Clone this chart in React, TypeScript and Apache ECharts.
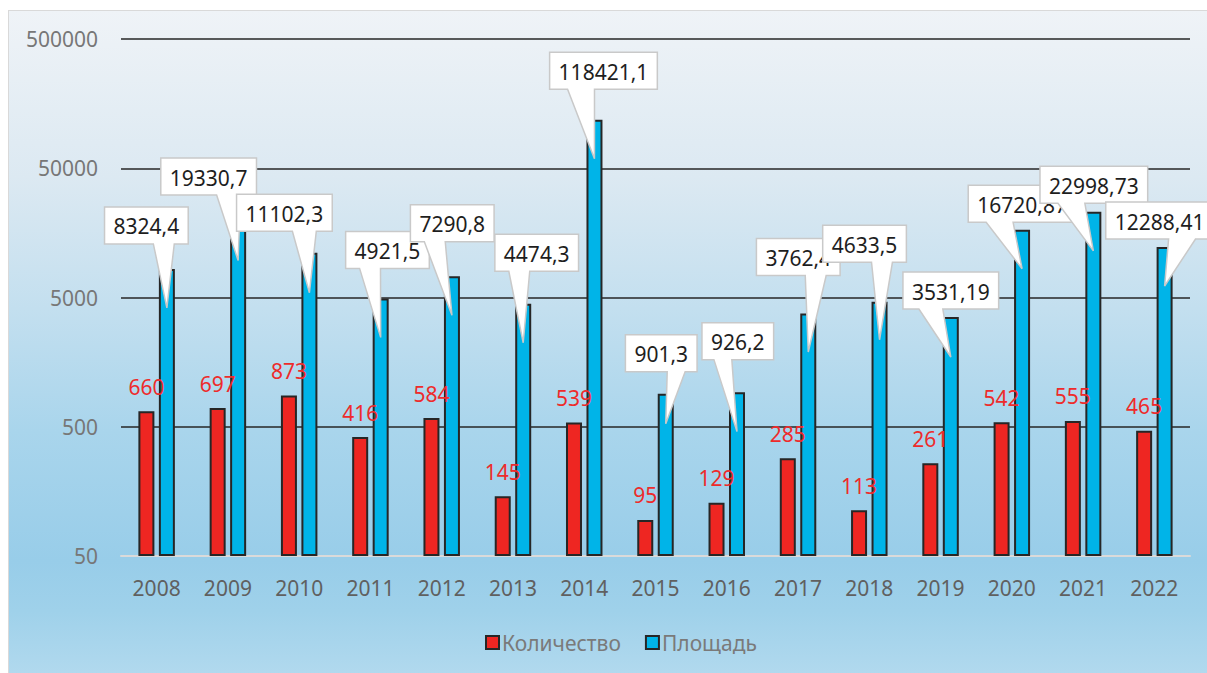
import React, { useEffect, useRef } from "react";
import * as echarts from "echarts";

// ---- data ----
const years = ["2008", "2009", "2010", "2011", "2012", "2013", "2014", "2015", "2016", "2017", "2018", "2019", "2020", "2021", "2022"];
const countValues = [660, 697, 873, 416, 584, 145, 539, 95, 129, 285, 113, 261, 542, 555, 465];
const areaValues = [8324.4, 19330.7, 11102.3, 4921.5, 7290.8, 4474.3, 118421.1, 901.3, 926.2, 3762.4, 4633.5, 3531.19, 16720.87, 22998.73, 12288.41];
const yTickLabels = ["50", "500", "5000", "50000", "500000"];
const seriesNames = ["Количество", "Площадь"];

// ---- layout of the callout labels (box centre offset from the bar top, tip depth) ----
const calloutLayout: number[][] = [
  [-20.5, -43.5, 39],
  [-29.5, -45, 39],
  [-25, -40, 40],
  [6.8, -48.5, 39],
  [0.3, -53, 39],
  [13.5, -51, 39],
  [9, -49, 39],
  [-4.5, -40.5, 30],
  [0.8, -51, 39.5],
  [-10, -56.5, 38.5],
  [-15, -58, 38],
  [0, -26.5, 40],
  [0, -26, 39],
  [0.5, -27, 39],
  [-5, -26.5, 39],
];

const BASE = 50;
const toLog = (v: number) => Math.log10(v / BASE);
const fmtComma = (v: number) => String(v).replace(".", ",");

const FONT = '"Noto Sans", "Open Sans", sans-serif';
const BAR_W = 16;
const BAR_GAP = 0.28;
const BAR_OFFSET = (BAR_W + BAR_W * BAR_GAP) / 2;
const PAD = 9;
const BOX_H = 37;

let measureCtx: CanvasRenderingContext2D | null = null;
function measure(text: string): number {
  if (!measureCtx) {
    const c = document.createElement("canvas");
    measureCtx = c.getContext("2d");
  }
  if (!measureCtx) return text.length * 12;
  measureCtx.font = `21px ${FONT}`;
  return measureCtx.measureText(text).width;
}

export default function App() {
  const ref = useRef<HTMLDivElement>(null);

  useEffect(() => {
    if (!ref.current) return;
    const chart = echarts.init(ref.current, undefined, { renderer: "svg" });

    const option: any = {
      animation: false,
      textStyle: { fontFamily: FONT },
      grid: { left: 121, right: 17, top: 39, bottom: 117, containLabel: false },
      legend: {
        data: seriesNames,
        left: 480,
        top: 627,
        icon: "rect",
        itemWidth: 13,
        itemHeight: 13,
        itemGap: 24,
        textStyle: { fontSize: 21, color: "#7a7a7a", fontFamily: FONT, padding: [0, 0, 0, -2] },
      },
      xAxis: {
        type: "category",
        data: years,
        axisLine: { show: true, lineStyle: { color: "#dadada", width: 2 } },
        axisTick: { show: false },
        axisLabel: { fontSize: 21, color: "#606060", margin: 21, fontFamily: FONT },
        splitLine: { show: false },
      },
      yAxis: {
        type: "value",
        min: 0,
        max: 4,
        interval: 1,
        axisLine: { show: false },
        axisTick: { show: false },
        axisLabel: {
          fontSize: 21,
          color: "#777777",
          margin: 23,
          fontFamily: FONT,
          formatter: (v: number) => yTickLabels[Math.round(v)] ?? "",
        },
        splitLine: { show: true, showMinLine: false, lineStyle: { color: "#262626", width: 1.6 } },
      },
      series: [
        {
          name: seriesNames[0],
          type: "bar",
          barWidth: BAR_W,
          barGap: `${BAR_GAP * 100}%`,
          data: countValues.map(toLog),
          itemStyle: { color: "#ee2622", borderColor: "#262626", borderWidth: 2 },
          label: {
            show: true,
            position: "top",
            distance: 14,
            color: "#ee2b2b",
            fontSize: 21,
            fontFamily: FONT,
            formatter: (p: any) => String(countValues[p.dataIndex]),
          },
          z: 3,
        },
        {
          name: seriesNames[1],
          type: "bar",
          barWidth: BAR_W,
          data: areaValues.map(toLog),
          itemStyle: { color: "#00b4e8", borderColor: "#262626", borderWidth: 2 },
          z: 3,
        },
        {
          name: "callouts",
          type: "custom",
          z: 10,
          clip: false,
          silent: true,
          data: areaValues.map((v, i) => [i, toLog(v)]),
          renderItem: (params: any, api: any) => {
            const i = params.dataIndex;
            const p = api.coord([api.value(0), api.value(1)]);
            const bx = p[0] + BAR_OFFSET;
            const by = p[1];
            const [dx, dy, tipDy] = calloutLayout[i];
            const text = fmtComma(areaValues[i]);
            const w = measure(text) + 2 * PAD;
            const h = BOX_H;
            const cx = bx + dx;
            const cy = by + dy;
            const L = cx - w / 2;
            const R = cx + w / 2;
            const T = cy - h / 2;
            const B = cy + h / 2;
            const tipX = bx;
            const tipY = by + tipDy;
            const right = tipX > cx;
            const x1 = L + (w * (right ? 7 : 2)) / 12;
            const x2 = L + (w * (right ? 10 : 5)) / 12;
            return {
              type: "group",
              children: [
                {
                  type: "polygon",
                  shape: {
                    points: [
                      [L, T],
                      [R, T],
                      [R, B],
                      [x2, B],
                      [tipX, tipY],
                      [x1, B],
                      [L, B],
                    ],
                  },
                  style: { fill: "#ffffff", stroke: "#c9c9c9", lineWidth: 1.5 },
                },
                {
                  type: "text",
                  style: {
                    text,
                    x: cx,
                    y: cy + 1,
                    align: "center",
                    verticalAlign: "middle",
                    fill: "#1e1e1e",
                    fontSize: 21,
                    fontFamily: FONT,
                  },
                },
              ],
            };
          },
        },
      ],
    };

    chart.setOption(option);
    return () => {
      chart.dispose();
    };
  }, []);

  return (
    <div style={{ position: "fixed", left: 0, top: 0, width: 1207, height: 673, background: "#ffffff", overflow: "hidden" }}>
      <div
        style={{
          position: "absolute",
          left: 8,
          top: 10,
          width: 1300,
          height: 700,
          boxSizing: "border-box",
          border: "1.5px solid #d9d9d9",
          background:
            "linear-gradient(to bottom, #eff3f7 0px, #dce9f2 166px, #c3dfef 298px, #a9d5ec 420px, #98cde9 550px, #9fd1ea 600px, #b1d9ee 663px, #b5dbee 700px)",
        }}
      />
      <div ref={ref} style={{ position: "absolute", left: 0, top: 0, width: 1207, height: 673 }} />
    </div>
  );
}
